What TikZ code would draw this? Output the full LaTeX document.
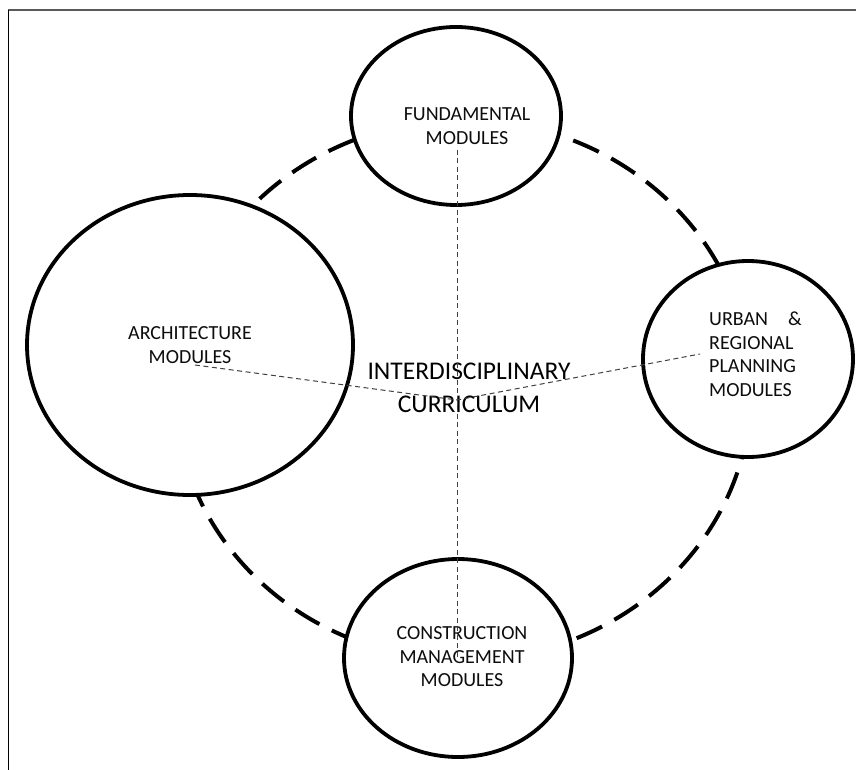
\documentclass[tikz,border=0pt]{standalone}
\usepackage{fontspec}
\setmainfont{Carlito}
\usetikzlibrary{shapes.geometric}
\tikzset{
  module/.style={draw=black, line width=3.8pt, fill=white, ellipse, inner sep=0pt},
  label/.style={inner sep=0pt, align=center, font=\fontsize{20}{23.5}\selectfont, text=black!95},
  bigtext/.style={inner sep=0pt, align=center, font=\fontsize{25.5}{33}\selectfont, text=black},
  ring/.style={draw=black, line width=4pt, dash pattern=on 28pt off 14pt},
  spoke/.style={draw=black!75, line width=1pt, dash pattern=on 5pt off 3.5pt}
}
\begin{document}
\begin{tikzpicture}[x=1pt, y=-1pt]
\useasboundingbox (0,0) rectangle (856,770);
% frame
\draw[black!65, line width=2pt] (8,10) -- (856,10);
\draw[black, line width=1pt] (8,10) -- (8,770);
% outer dashed ring
\draw[ring] (463,390) ellipse [x radius=288, y radius=270];
% module ellipses
\node[module, minimum width=210pt, minimum height=178pt] (fund) at (456,116) {};
\node[module, minimum width=326pt, minimum height=300pt] (arch) at (190,345) {};
\node[module, minimum width=210pt, minimum height=196pt] (urban) at (748,359) {};
\node[module, minimum width=228pt, minimum height=198pt] (cons) at (458,658) {};
% texts
\node[label] (tfund) at (467,126) {FUNDAMENTAL\\MODULES};
\node[label] (tarch) at (190,345) {ARCHITECTURE\\MODULES};
\node[label, align=left, anchor=west] (turban) at (709,354) {URBAN\quad\&\\REGIONAL\\PLANNING\\MODULES};
\node[label] (tcons) at (462,657) {CONSTRUCTION\\MANAGEMENT\\MODULES};
\node[bigtext] (center) at (469,388) {INTERDISCIPLINARY\\CURRICULUM};
% spokes
\coordinate (hub) at (457,400);
\coordinate (pf) at (457,150);
\coordinate (pa) at (195,365);
\coordinate (pu) at (700,354);
\coordinate (pc) at (457,660);
\draw[spoke] (pf) -- (hub) -- (pc);
\draw[spoke] (pa) -- (hub) -- (pu);
\end{tikzpicture}
\end{document}
